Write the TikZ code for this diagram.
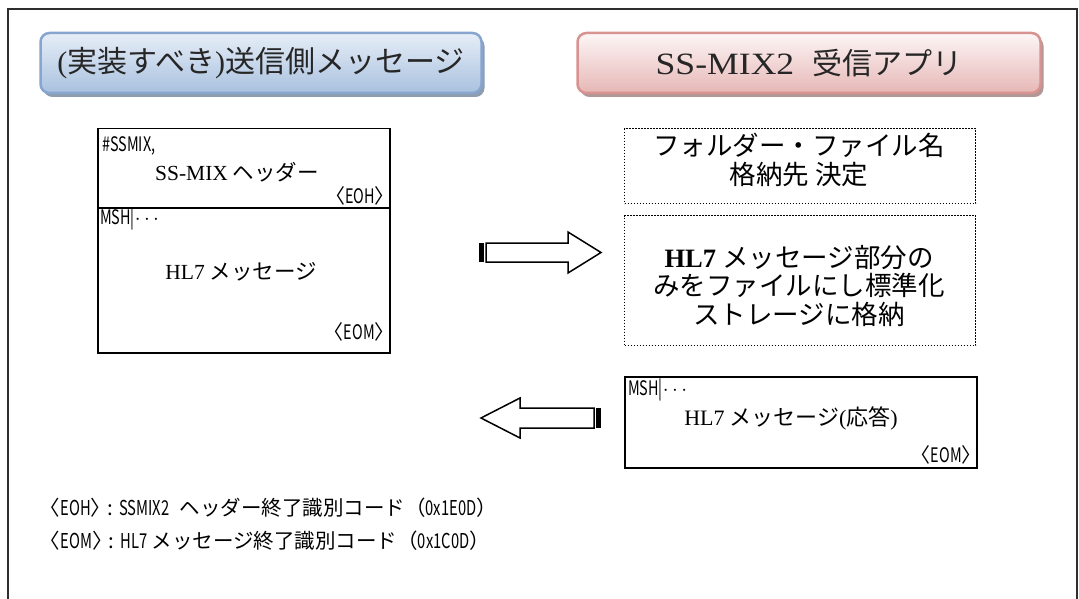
\documentclass[tikz,border=0pt]{standalone}
\usepackage{fontspec}
\setmainfont{Noto Sans CJK JP}
\newfontfamily\lat{Liberation Serif}
\newfontfamily\latwide[FakeStretch=1.15]{Liberation Serif}
\newfontfamily\cond[FakeStretch=0.72]{Noto Sans CJK JP}
\usetikzlibrary{shadows}
\definecolor{bluetop}{HTML}{E6EEF7}
\definecolor{bluebot}{HTML}{A9C1DF}
\definecolor{blueedge}{HTML}{87A5CE}
\definecolor{blueshadow}{HTML}{8E9DB0}
\definecolor{redtop}{HTML}{FDF6F6}
\definecolor{redbot}{HTML}{E6B7B6}
\definecolor{rededge}{HTML}{D8928F}
\definecolor{redshadow}{HTML}{B19797}
\definecolor{framecol}{HTML}{2E2E2E}
\newcommand{\ang}[1]{\kern-0.5em〈{\cond #1}〉\kern-0.5em}
\newcommand{\msh}{{\cond MSH|}$\cdots$}
\tikzset{
  hdr/.style={rounded corners=9pt, line width=2.5pt, minimum width=441pt, minimum height=60pt, inner sep=0pt, font=\fontsize{30}{30}\selectfont, text=black!85},
  hdrblue/.style={hdr, draw=blueedge, top color=bluetop, bottom color=bluebot,
    drop shadow={shadow xshift=3pt, shadow yshift=-4pt, fill=blueshadow, opacity=1}},
  hdrred/.style={hdr, draw=rededge, top color=redtop, bottom color=redbot,
    drop shadow={shadow xshift=3pt, shadow yshift=-4pt, fill=redshadow, opacity=1}},
  msgbox/.style={draw, line width=1.5pt, anchor=north west, inner sep=0pt},
  dotbox/.style={draw, line width=1.2pt, dash pattern=on 1.2pt off 1.8pt, anchor=north west, inner sep=0pt},
  mono/.style={font=\fontsize{20}{20}\selectfont, inner sep=0pt},
  big/.style={font=\fontsize{21.5}{23}\selectfont, inner sep=0pt},
  dtext/.style={font=\fontsize{26.5}{28.5}\selectfont, inner sep=0pt, align=center},
  legend/.style={font=\fontsize{20.5}{20.5}\selectfont, inner sep=0pt, anchor=west},
  blockarrow/.style={draw, fill=white, line width=1.5pt, line join=miter},
  tailbar/.style={fill=black}
}
\begin{document}
\begin{tikzpicture}[x=1pt, y=-1pt]
\useasboundingbox (0,0) rectangle (1079,599);
% outer frame (open at the bottom)
\draw[framecol, line width=2.5pt] (8,600) -- (8,9) -- (1077,9) -- (1077,600);

% headers
\node[hdrblue] (hsend) at (261,63) {{\lat(}実装すべき{\lat)}送信側メッセージ};
\node[hdrred, minimum width=463pt] (hrecv) at (809,63) {{\latwide\fontsize{31}{31}\selectfont SS-MIX2}\hspace{0.6em}受信アプリ};

% left message box
\node[msgbox, minimum width=292pt, minimum height=79pt] (boxhdr) at (97,128) {};
\node[msgbox, minimum width=292pt, minimum height=145pt] (boxmsg) at (97,207) {};
\node[mono, anchor=west] (tssmix) at (102,146) {{\cond\#SSMIX,}};
\node[big] (tsshdr) at (237,172) {{\lat SS-MIX} ヘッダー};
\node[mono, anchor=east] (teoh) at (385,196) {\ang{EOH}};
\node[mono, anchor=west] (tmsh1) at (100,219) {\msh};
\node[big] (thl7) at (241,272) {{\lat HL7} メッセージ};
\node[mono, anchor=east] (teom1) at (385,332) {\ang{EOM}};

% right dotted boxes
\node[dotbox, minimum width=351pt, minimum height=75pt] (dbox1) at (624,128) {};
\node[dtext] (tfolder) at (799,160) {フォルダー・ファイル名\\格納先 決定};
\node[dotbox, minimum width=351pt, minimum height=130pt] (dbox2) at (624,215) {};
\node[dtext] (tstore) at (799,286) {{\lat\bfseries HL7} メッセージ部分の\\みをファイルにし標準化\\ストレージに格納};

% response box
\node[msgbox, minimum width=352pt, minimum height=91pt] (rbox) at (624,376) {};
\node[mono, anchor=west] (tmsh2) at (628,390) {\msh};
\node[big, font=\fontsize{22}{24}\selectfont] (thl7r) at (791,418) {{\lat HL7} メッセージ{\lat(}応答{\lat)}};
\node[mono, anchor=east] (teom2) at (972,455) {\ang{EOM}};

% block arrow: send (left box -> dotted box)
\coordinate (a1tail) at (486,252.5);
\coordinate (a1tip) at (601,252.5);
\draw[blockarrow] (486,243) -- (568,243) -- (568,232) -- (a1tip) -- (568,273) -- (568,262) -- (486,262) -- cycle;
\fill[tailbar] (479,243) rectangle (484,262);

% block arrow: response (response box -> left)
\coordinate (a2tail) at (594,418);
\coordinate (a2tip) at (481,418);
\draw[blockarrow] (594,408) -- (520,408) -- (520,398) -- (a2tip) -- (520,438) -- (520,428) -- (594,428) -- cycle;
\fill[tailbar] (596,408) rectangle (601,428);

% legend
\node[legend] (leg1) at (50,508) {\ang{EOH}\hspace{0.3em}:\hspace{0.3em}{\cond SSMIX2}\hspace{0.5em}ヘッダー終了識別コード（{\cond 0x1E0D}）};
\node[legend] (leg2) at (50,541) {\ang{EOM}\hspace{0.3em}:\hspace{0.3em}{\cond HL7} メッセージ終了識別コード（{\cond 0x1C0D}）};
\end{tikzpicture}
\end{document}
